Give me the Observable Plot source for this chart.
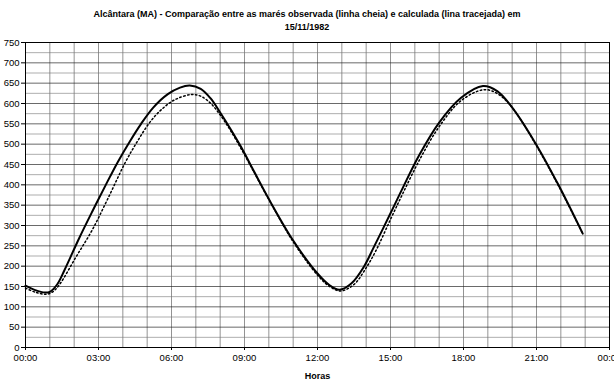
<!DOCTYPE html>
<html><head><meta charset="utf-8">
<script src="https://cdn.jsdelivr.net/npm/d3@7"></script>
<script src="https://cdn.jsdelivr.net/npm/@observablehq/plot@0.6"></script>
<style>
body{margin:0;background:#fff;font-family:"Liberation Sans",Arial,sans-serif;}
#title{height:35px;text-align:center;font-weight:bold;font-size:9px;line-height:13px;padding-top:8px;box-sizing:border-box;color:#000;}
</style></head><body>
<div id="title">Alcântara (MA) - Comparação entre as marés observada (linha cheia) e calculada (lina tracejada) em<br>15/11/1982</div>
<div id="chart"></div>
<script>
// Observed tide (solid line)
const obsHours = [0, 0.4, 0.8, 1.0, 1.3, 1.6, 2.2, 2.75, 3.3, 3.8, 4.3, 4.75, 5.25, 5.85, 6.35, 6.75, 7.2, 7.6, 8.0, 8.45, 8.85, 9.4, 10, 11, 12, 12.5, 12.9, 13.4, 13.9, 14.3, 15, 15.5, 16.2, 17, 17.9, 18.8, 19.4, 19.95, 20.9, 21.9, 22.9];
const obsLevel = [152, 141, 135, 137, 155, 190, 268, 335, 400, 457, 508, 550, 590, 623, 639, 644, 636, 613, 578, 535, 494, 432, 365, 263, 182, 153, 142, 158, 198, 245, 330, 392, 475, 553, 614, 643, 630, 594, 508, 400, 280];
// Calculated tide (dotted line)
const calcHours = [0, 0.4, 0.85, 1.1, 1.4, 2.05, 2.75, 3.4, 4.1, 4.6, 5.1, 5.55, 6.1, 6.8, 7.2, 7.6, 8.0, 8.4, 9, 10, 11, 12, 12.5, 12.95, 13.5, 14, 14.4, 15, 15.5, 16.2, 17, 17.9, 18.85, 19.4, 20, 20.9, 21.9, 22.9];
const calcLevel = [146, 136, 131, 136, 155, 220, 290, 368, 455, 507, 553, 583, 608, 622, 618, 601, 572, 536, 474, 364, 260, 178, 150, 139, 155, 196, 238, 315, 378, 462, 543, 607, 634, 624, 590, 506, 398, 280];
// Axis ticks
const xTicks = [0, 3, 6, 9, 12, 15, 18, 21, 24];
const yTicks = d3.range(0, 751, 50);
const hourGrid = d3.range(0, 25, 1);
const minorGrid = d3.range(25, 750, 50);

const obs = obsHours.map((h, i) => ({h, v: obsLevel[i]}));
const calc = calcHours.map((h, i) => ({h, v: calcLevel[i]}));
const fmt = h => String(h % 24).padStart(2, "0") + ":00";

const chart = Plot.plot({
  width: 614,
  height: 350,
  marginTop: 7,
  marginBottom: 38,
  marginLeft: 25,
  marginRight: 5,
  style: {fontFamily: "'Liberation Sans', Arial, sans-serif", fontSize: "9.5px", color: "#000", background: "#fff", overflow: "visible"},
  x: {domain: [0, 24]},
  y: {domain: [0, 750]},
  marks: [
    Plot.ruleX(hourGrid, {x: d => d, stroke: "#555", strokeWidth: 0.8, strokeOpacity: 0.8}),
    Plot.ruleY(minorGrid, {y: d => d, stroke: "#777", strokeWidth: 0.8, strokeOpacity: 0.75}),
    Plot.ruleY(yTicks, {y: d => d, stroke: "#222", strokeWidth: 0.8, strokeOpacity: 0.85}),
    Plot.frame({stroke: "#000", strokeWidth: 1}),
    Plot.axisY({ticks: yTicks, tickSize: 4, tickPadding: 2, label: null, fontSize: 9.5}),
    Plot.axisX({ticks: xTicks, tickFormat: fmt, tickSize: 3, tickPadding: 4, label: null, fontSize: 9.5}),
    Plot.line(calc, {x: "h", y: "v", curve: "catmull-rom", stroke: "#000", strokeWidth: 1.5, strokeDasharray: "1.5,2.5"}),
    Plot.line(obs, {x: "h", y: "v", curve: "catmull-rom", stroke: "#000", strokeWidth: 2}),
    Plot.text(["Horas"], {frameAnchor: "bottom", dy: 31, text: d => d, fontWeight: "bold", fontSize: 9})
  ]
});
document.getElementById("chart").appendChild(chart);
</script>
</body></html>
